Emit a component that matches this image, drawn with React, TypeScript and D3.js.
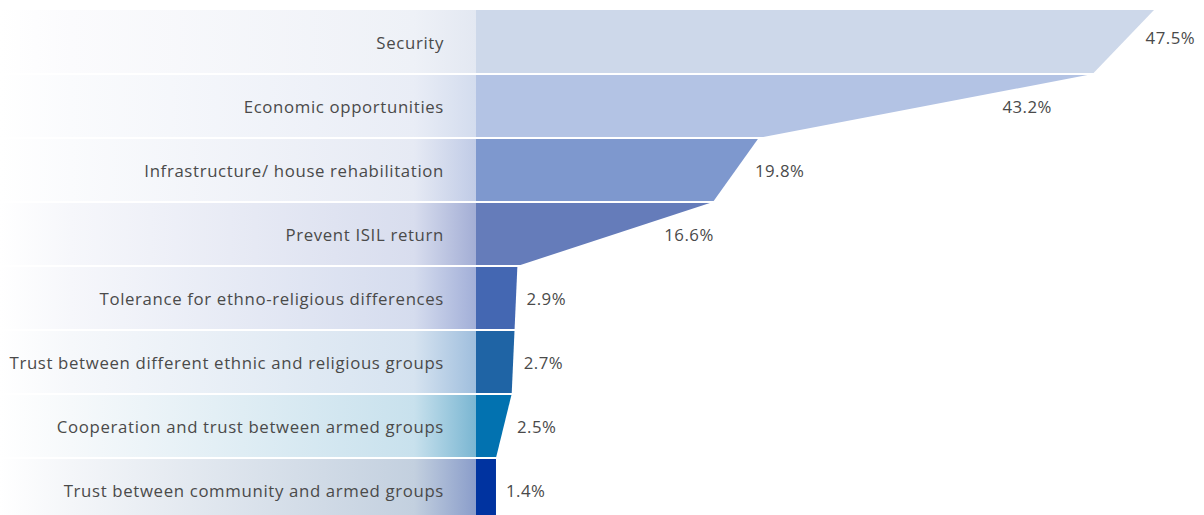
import React from "react";
import * as d3 from "d3";

const categories = [
  "Security",
  "Economic opportunities",
  "Infrastructure/ house rehabilitation",
  "Prevent ISIL return",
  "Tolerance for ethno-religious differences",
  "Trust between different ethnic and religious groups",
  "Cooperation and trust between armed groups",
  "Trust between community and armed groups",
];
const values = [47.5, 43.2, 19.8, 16.6, 2.9, 2.7, 2.5, 1.4];
const valueLabels = ["47.5%", "43.2%", "19.8%", "16.6%", "2.9%", "2.7%", "2.5%", "1.4%"];

const barColors = ["#cdd8ea", "#b3c3e4", "#7e98ce", "#657cba", "#4467b2", "#1f64a5", "#0272b0", "#0033a0"];
const bgStops = [
  ["#fbfbfd", "#eef1f7", "#e3e8f2"],
  ["#fafbfd", "#e9edf6", "#d3dcee"],
  ["#fafbfd", "#e6eaf4", "#c0cbe6"],
  ["#f6f7fb", "#d8ddee", "#a3aed5"],
  ["#f6f7fb", "#d5dcee", "#a2afd8"],
  ["#f6f8fb", "#d6e3f0", "#9fbedd"],
  ["#f6f9fb", "#c8e1ed", "#7ab6d2"],
  ["#f4f6f9", "#c3d0df", "#8a9dca"],
];

const W = 1204;
const H = 515;
const X0 = 476;
const TOP = 10;
const ROW = 64;

export default function App() {
  const x = d3.scaleLinear().domain([0, 47.5]).range([0, 678]);
  const y = d3.scaleBand<number>().domain(d3.range(categories.length)).range([TOP, TOP + ROW * categories.length]).padding(0);
  const font = "'Open Sans', sans-serif";
  return (
    <svg width={W} height={H} style={{ position: "absolute", left: 0, top: 0, display: "block" }} fontFamily={font}>
      <defs>
        {bgStops.map((s, i) => (
          <linearGradient key={i} id={`bg${i}`} x1="0" x2="1" y1="0" y2="0">
            <stop offset="0" stopColor="#ffffff" />
            <stop offset="0.15" stopColor={s[0]} />
            <stop offset="0.87" stopColor={s[1]} />
            <stop offset="1" stopColor={s[2]} />
          </linearGradient>
        ))}
      </defs>
      {categories.map((c, i) => {
        const top = y(i)!;
        const bot = top + y.bandwidth();
        const wTop = x(values[i]);
        const wBot = x(i < values.length - 1 ? values[i + 1] : values[i]);
        const path = d3.path();
        path.moveTo(X0, top);
        path.lineTo(X0 + wTop, top);
        path.lineTo(X0 + wBot, bot);
        path.lineTo(X0, bot);
        path.closePath();
        const lx = 0.7 * (X0 + wTop) + 0.3 * (X0 + wBot) + 10;
        const cy = (top + bot) / 2 + (i === 0 ? -5 : 0);
        return (
          <g key={c}>
            <rect x={0} y={top} width={X0} height={y.bandwidth()} fill={`url(#bg${i})`} />
            <path d={path.toString()} fill={barColors[i]} />
            <text x={444} y={(top + bot) / 2 + 2} textAnchor="end" dominantBaseline="middle" fontSize={16.8} letterSpacing={0.65} fill="#4a4a4a">
              {c}
            </text>
            <text x={lx} y={cy + 2} dominantBaseline="middle" fontSize={16.8} letterSpacing={0.5} fill="#4a4a4a">
              {valueLabels[i]}
            </text>
          </g>
        );
      })}
      {categories.slice(1).map((c, i) => (
        <line key={c} x1={0} x2={W} y1={y(i + 1)!} y2={y(i + 1)!} stroke="#ffffff" strokeWidth={2} />
      ))}
    </svg>
  );
}
